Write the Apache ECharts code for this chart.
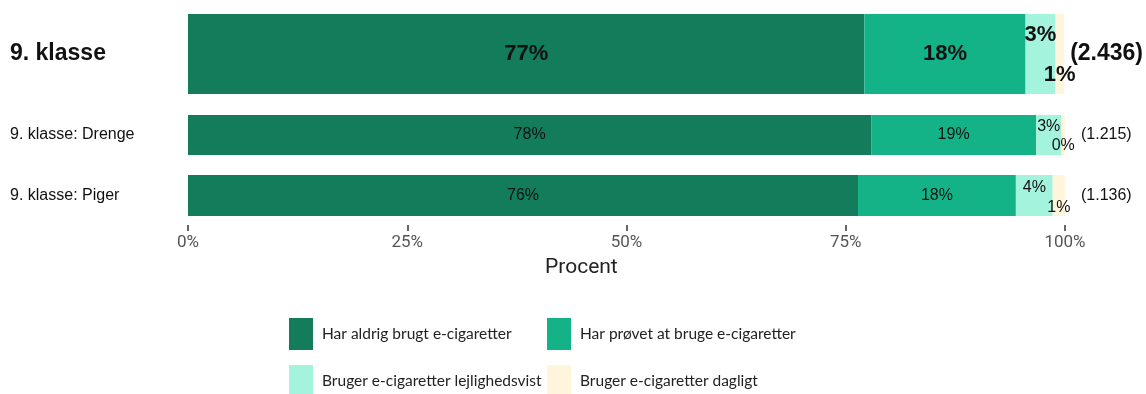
<!DOCTYPE html>
<html>
<head>
<meta charset="utf-8">
<script src="https://cdn.jsdelivr.net/npm/echarts@6/dist/echarts.min.js"></script>
<style>html,body{margin:0;padding:0;background:#fff}#c{width:1146px;height:394px}</style>
</head>
<body>
<div id="c"></div>
<script>
const categories = ['9. klasse', '9. klasse: Drenge', '9. klasse: Piger'];
const counts = ['(2.436)', '(1.215)', '(1.136)'];
const seriesNames = ['Har aldrig brugt e-cigaretter', 'Har prøvet at bruge e-cigaretter', 'Bruger e-cigaretter lejlighedsvist', 'Bruger e-cigaretter dagligt'];
const aldrig = [77.2, 77.9, 76.4];
const proevet = [18.4, 18.8, 18.0];
const lejlighedsvist = [3.4, 2.9, 4.2];
const dagligt = [1.0, 0.4, 1.4];
const xTicks = ['0%', '25%', '50%', '75%', '100%'];
const axisTitle = 'Procent';

const colors = ['#127c5b', '#14b387', '#a4f3dc', '#fff4dc'];
const values = [aldrig, proevet, lejlighedsvist, dagligt];
const grids = [
  {left: 188, right: 81, top: 14, height: 80},
  {left: 188, right: 81, top: 115, height: 40},
  {left: 188, right: 81, top: 175, height: 41}
];
const tickGrid = {left: 188, right: 81, top: 225, height: 6};
const smallOffsets = [[-19, 21], [-8, 11], [-8, 12]];
const font = 'Liberation Sans, Arial, sans-serif';

const xAxis = [], yAxis = [], series = [];
grids.forEach((g, i) => {
  const big = i === 0;
  xAxis.push({
    type: 'value', gridIndex: i, min: 0, max: 100, interval: 25, show: false
  });
  yAxis.push({
    type: 'category', gridIndex: i, data: [categories[i]],
    axisLine: {show: false}, axisTick: {show: false},
    axisLabel: {align: 'left', margin: 178, color: '#111', fontFamily: font,
      fontSize: big ? 23 : 16, fontWeight: big ? 'bold' : 'normal'}
  });
  yAxis.push({
    type: 'category', gridIndex: i, position: 'right', data: [counts[i]],
    axisLine: {show: false}, axisTick: {show: false},
    axisLabel: {align: 'left', margin: big ? 6 : 16, color: '#111', fontFamily: font,
      fontSize: big ? 23 : 16, fontWeight: big ? 'bold' : 'normal'}
  });
  values.forEach((arr, s) => {
    let off = [0, 0];
    if (s === 2) off = [0, smallOffsets[i][0]];
    if (s === 3) off = [0, smallOffsets[i][1]];
    series.push({
      name: seriesNames[s], type: 'bar', stack: 'g' + i,
      xAxisIndex: i, yAxisIndex: i * 2,
      barWidth: '100%',
      data: [arr[i]],
      itemStyle: {color: colors[s]},
      label: {
        show: true, position: 'inside', offset: off,
        color: '#111', fontFamily: font,
        fontSize: big ? 22 : 16, fontWeight: big ? 'bold' : 'normal',
        formatter: p => Math.round(p.value) + '%'
      },
      emphasis: {disabled: true}
    });
  });
});

// tick strip: its split lines act as the short tick marks below the bars
xAxis.push({
  type: 'value', gridIndex: 3, min: 0, max: 100, interval: 25,
  axisLine: {show: false}, axisTick: {show: false},
  splitLine: {show: true, lineStyle: {color: '#333333', width: 1.5}},
  axisLabel: {show: true, margin: 3, color: '#555', fontFamily: 'Roboto, sans-serif', fontSize: 17,
    formatter: v => xTicks[v / 25]}
});
yAxis.push({type: 'value', gridIndex: 3, show: false, min: 0, max: 1, splitLine: {show: false}});

const legendBase = {
  orient: 'horizontal', itemWidth: 24, itemHeight: 32, icon: 'rect',
  textStyle: {fontFamily: 'Lato, sans-serif', fontSize: 15.5, color: '#222', padding: [0, 0, 0, 4]}
};
const legendPos = [[284, 313], [542, 313], [284, 360], [542, 360]];
const legend = seriesNames.map((n, k) => Object.assign({}, legendBase,
  {left: legendPos[k][0], top: legendPos[k][1], data: [n]}));

const chart = echarts.init(document.getElementById('c'));
chart.setOption({
  animation: false,
  title: {text: axisTitle, left: 545, top: 257, padding: 0,
    textStyle: {fontFamily: 'Roboto, sans-serif', fontSize: 21, fontWeight: 'normal', color: '#222'}},
  grid: grids.concat([tickGrid]),
  xAxis, yAxis, series, legend
});
</script>
</body>
</html>
